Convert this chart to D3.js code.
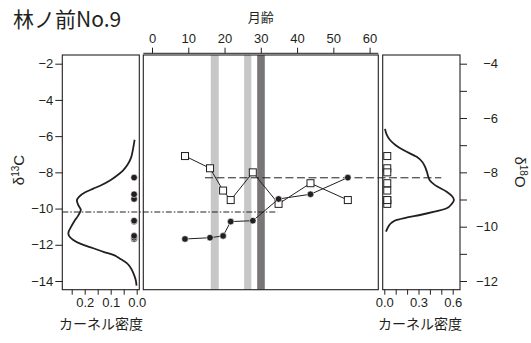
<!DOCTYPE html>
<html>
<head>
<meta charset="utf-8">
<script src="https://cdnjs.cloudflare.com/ajax/libs/d3/7.8.5/d3.min.js"></script>
<style>
  body { margin: 0; background: #fff; }
  text { font-family: "Liberation Sans", Arial, sans-serif; fill: #231f20; }
  .jp { font-family: "Noto Sans CJK JP", sans-serif; }
</style>
</head>
<body>
<svg id="chart" width="531" height="343"></svg>
<script>
/* data */
var ageMonths = [9.1, 16.0, 19.6, 21.7, 27.8, 34.9, 43.7, 54.0];
var d13C = [-11.68, -11.61, -11.51, -10.72, -10.67, -9.47, -9.21, -8.29];
var d18O = [-7.40, -7.85, -8.67, -9.02, -8.00, -9.16, -8.40, -9.02];

var d13CRef = -10.19;   // dash-dot line
var d18ORef = -8.20;    // dashed line

// shaded month ranges
var bandStart = [16.2, 25.4, 29.0];
var bandEnd = [18.4, 27.4, 31.1];
var bandShade = ["light", "light", "dark"];

// kernel density curves (value, density)
var kdeCValue = [-6.2, -6.7, -7.2, -7.6, -7.9, -8.2, -8.45, -8.7, -8.9, -9.1, -9.35, -9.55, -9.8, -10.08, -10.36,
  -10.7, -11.0, -11.36, -11.73, -11.95, -12.19, -12.4, -12.56, -12.8, -13.01, -13.3, -13.56, -13.93, -14.26];
var kdeCDensity = [0.008, 0.014, 0.022, 0.036, 0.053, 0.078, 0.103, 0.135, 0.167, 0.198, 0.222, 0.230, 0.225, 0.215, 0.224,
  0.240, 0.252, 0.263, 0.244, 0.215, 0.167, 0.125, 0.09, 0.06, 0.038, 0.022, 0.013, 0.004, 0.0005];
var kdeOValue = [-6.4, -6.6, -6.81, -7.0, -7.18, -7.43, -7.6, -7.79, -8.0, -8.16, -8.3, -8.47, -8.71, -8.88, -9.02,
  -9.17, -9.32, -9.45, -9.57, -9.66, -9.75, -9.87, -10.0, -10.18];
var kdeODensity = [0.006, 0.02, 0.05, 0.10, 0.167, 0.284, 0.33, 0.357, 0.375, 0.386, 0.40, 0.445, 0.547, 0.595, 0.611,
  0.59, 0.547, 0.44, 0.313, 0.20, 0.109, 0.06, 0.035, 0.015];

// ticks
var monthTicks = [0, 10, 20, 30, 40, 50, 60];
var d13CTicks = [-2, -4, -6, -8, -10, -12, -14];
var d18OTicks = [-4, -5, -6, -7, -8, -9, -10, -11, -12];
var d18OLabels = [-4, -6, -8, -10, -12];
var densCTicks = [0, 0.05, 0.1, 0.15, 0.2, 0.25];
var densCLabels = [0, 0.1, 0.2];
var densOTicks = [0, 0.1, 0.2, 0.3, 0.4, 0.5, 0.6];
var densOLabels = [0, 0.3, 0.6];

var INK = "#231f20";
var panelTop = 55, panelBottom = 289.7;

var svg = d3.select("#chart");
svg.append("rect").attr("width", 531).attr("height", 343).attr("fill", "#fff");

var yL = d3.scaleLinear().domain([-14.48, -1.52]).range([panelBottom, panelTop]);
var yR = d3.scaleLinear().domain([-12.32, -3.68]).range([panelBottom, panelTop]);
var xM = d3.scaleLinear().domain([-2.4, 62.4]).range([143.3, 378.3]);
var xL = d3.scaleLinear().domain([0, 0.25]).range([136.7, 71.7]);
var xR = d3.scaleLinear().domain([0, 0.6]).range([384.3, 452.7]);

var leftBox = [62.3, 139.3], midBox = [143.3, 378.3], rightBox = [382.7, 460];

function minus(v) { return v < 0 ? "\u2212" + Math.abs(v) : String(v); }

function drawAxis(g, labelled, fmt) {
  g.selectAll("text").text(function (d) {
    return labelled.some(function (l) { return Math.abs(l - d) < 1e-9; }) ? fmt(d) : "";
  });
  g.selectAll("line").attr("stroke", INK);
  g.selectAll("text").attr("fill", INK).style("font-size", "13px");
}

// shaded bands
var bands = bandStart.map(function (s, i) { return { s: s, e: bandEnd[i], shade: bandShade[i] }; });
svg.append("g").selectAll("rect").data(bands).join("rect")
  .attr("x", function (d) { return xM(d.s); })
  .attr("width", function (d) { return xM(d.e) - xM(d.s); })
  .attr("y", panelTop).attr("height", panelBottom - panelTop)
  .attr("fill", function (d) { return d.shade === "dark" ? "#7a7576" : "#c7c7c7"; });

// panel boxes
[leftBox, midBox, rightBox].forEach(function (b) {
  svg.append("rect").attr("x", b[0]).attr("y", panelTop)
    .attr("width", b[1] - b[0]).attr("height", panelBottom - panelTop)
    .attr("fill", "none").attr("stroke", INK).attr("stroke-width", 1.1);
});

// top month axis
var gTop = svg.append("g").attr("transform", "translate(0,53.3)")
  .call(d3.axisTop(xM).tickValues(monthTicks).tickSizeOuter(0).tickSize(5.6).tickPadding(5));
gTop.select(".domain").attr("stroke", INK).attr("d", "M" + midBox[0] + ",0H" + midBox[1]);
drawAxis(gTop, monthTicks, String);
svg.append("text").attr("class", "jp").attr("x", xM(30)).attr("y", 22)
  .attr("text-anchor", "middle").style("font-size", "13px").text("月齢");

// left y axis (d13C)
var gLy = svg.append("g").attr("transform", "translate(" + leftBox[0] + ",0)")
  .call(d3.axisLeft(yL).tickValues(d13CTicks).tickSize(7).tickPadding(2));
gLy.select(".domain").remove();
drawAxis(gLy, d13CTicks, minus);

// right y axis (d18O)
var gRy = svg.append("g").attr("transform", "translate(" + rightBox[1] + ",0)")
  .call(d3.axisRight(yR).tickValues(d18OTicks).tickSize(7).tickPadding(2));
gRy.select(".domain").remove();
drawAxis(gRy, d18OLabels, minus);
gRy.selectAll("text").attr("text-anchor", "end").attr("x", 38);

// density axes
var gLx = svg.append("g").attr("transform", "translate(0," + panelBottom + ")")
  .call(d3.axisBottom(xL).tickValues(densCTicks).tickSize(5).tickPadding(3));
gLx.select(".domain").remove();
drawAxis(gLx, densCLabels, function (d) { return d.toFixed(1); });

var gRx = svg.append("g").attr("transform", "translate(0," + panelBottom + ")")
  .call(d3.axisBottom(xR).tickValues(densOTicks).tickSize(5).tickPadding(3));
gRx.select(".domain").remove();
drawAxis(gRx, densOLabels, function (d) { return d.toFixed(1); });

svg.append("text").attr("class", "jp").attr("x", 101).attr("y", 329)
  .attr("text-anchor", "middle").style("font-size", "14px").text("カーネル密度");
svg.append("text").attr("class", "jp").attr("x", 420).attr("y", 329)
  .attr("text-anchor", "middle").style("font-size", "14px").text("カーネル密度");

// title
svg.append("text").attr("class", "jp").attr("x", 13).attr("y", 27)
  .style("font-size", "21px").text("林ノ前No.9");

// axis titles
var tC = svg.append("text").attr("transform", "translate(24,170) rotate(-90)")
  .attr("text-anchor", "middle").style("font-size", "15px");
tC.append("tspan").text("δ");
tC.append("tspan").attr("dy", -5).style("font-size", "10px").text("13");
tC.append("tspan").attr("dy", 5).text("C");

var tO = svg.append("text").attr("transform", "translate(515,172) rotate(90)")
  .attr("text-anchor", "middle").style("font-size", "15px");
tO.append("tspan").text("δ");
tO.append("tspan").attr("dy", -5).style("font-size", "10px").text("18");
tO.append("tspan").attr("dy", 5).text("O");

// reference lines
svg.append("line")
  .attr("x1", leftBox[0]).attr("x2", xM(34.6))
  .attr("y1", yL(d13CRef)).attr("y2", yL(d13CRef))
  .attr("stroke", INK).attr("stroke-width", 1).attr("stroke-dasharray", "6,2,1.5,2");
svg.append("line")
  .attr("x1", xM(14.6)).attr("x2", xR(0.5))
  .attr("y1", yR(d18ORef)).attr("y2", yR(d18ORef))
  .attr("stroke", INK).attr("stroke-width", 1).attr("stroke-dasharray", "8,3.5");

// density curves
var kdeC = kdeCValue.map(function (v, i) { return [kdeCDensity[i], v]; });
var kdeO = kdeOValue.map(function (v, i) { return [kdeODensity[i], v]; });
svg.append("path").datum(kdeC)
  .attr("d", d3.line().x(function (d) { return xL(d[0]); }).y(function (d) { return yL(d[1]); }).curve(d3.curveMonotoneY))
  .attr("fill", "none").attr("stroke", INK).attr("stroke-width", 1.8);
svg.append("path").datum(kdeO)
  .attr("d", d3.line().x(function (d) { return xR(d[0]); }).y(function (d) { return yR(d[1]); }).curve(d3.curveMonotoneY))
  .attr("fill", "none").attr("stroke", INK).attr("stroke-width", 1.8);

// time series
var series = ageMonths.map(function (m, i) { return { m: m, c: d13C[i], o: d18O[i] }; });
var sq = 7;

svg.append("path").datum(series)
  .attr("d", d3.line().x(function (d) { return xM(d.m); }).y(function (d) { return yR(d.o); }))
  .attr("fill", "none").attr("stroke", INK).attr("stroke-width", 1);
svg.append("g").selectAll("rect").data(series).join("rect")
  .attr("x", function (d) { return xM(d.m) - sq / 2; })
  .attr("y", function (d) { return yR(d.o) - sq / 2; })
  .attr("width", sq).attr("height", sq)
  .attr("fill", "#fff").attr("stroke", INK).attr("stroke-width", 1);

svg.append("path").datum(series)
  .attr("d", d3.line().x(function (d) { return xM(d.m); }).y(function (d) { return yL(d.c); }))
  .attr("fill", "none").attr("stroke", INK).attr("stroke-width", 1);
svg.append("g").selectAll("circle").data(series).join("circle")
  .attr("cx", function (d) { return xM(d.m); })
  .attr("cy", function (d) { return yL(d.c); })
  .attr("r", 3.3).attr("fill", INK).attr("stroke", "#fff").attr("stroke-width", 0.6);

// rug marks next to density curves
svg.append("g").selectAll("rect").data(series).join("rect")
  .attr("x", xR(0.026) - sq / 2)
  .attr("y", function (d) { return yR(d.o) - sq / 2; })
  .attr("width", sq).attr("height", sq)
  .attr("fill", "#fff").attr("stroke", INK).attr("stroke-width", 1);
svg.append("g").selectAll("circle").data(series).join("circle")
  .attr("cx", xL(0.01))
  .attr("cy", function (d) { return yL(d.c); })
  .attr("r", 3.3).attr("fill", INK).attr("stroke", "#fff").attr("stroke-width", 0.6);
</script>
</body>
</html>
